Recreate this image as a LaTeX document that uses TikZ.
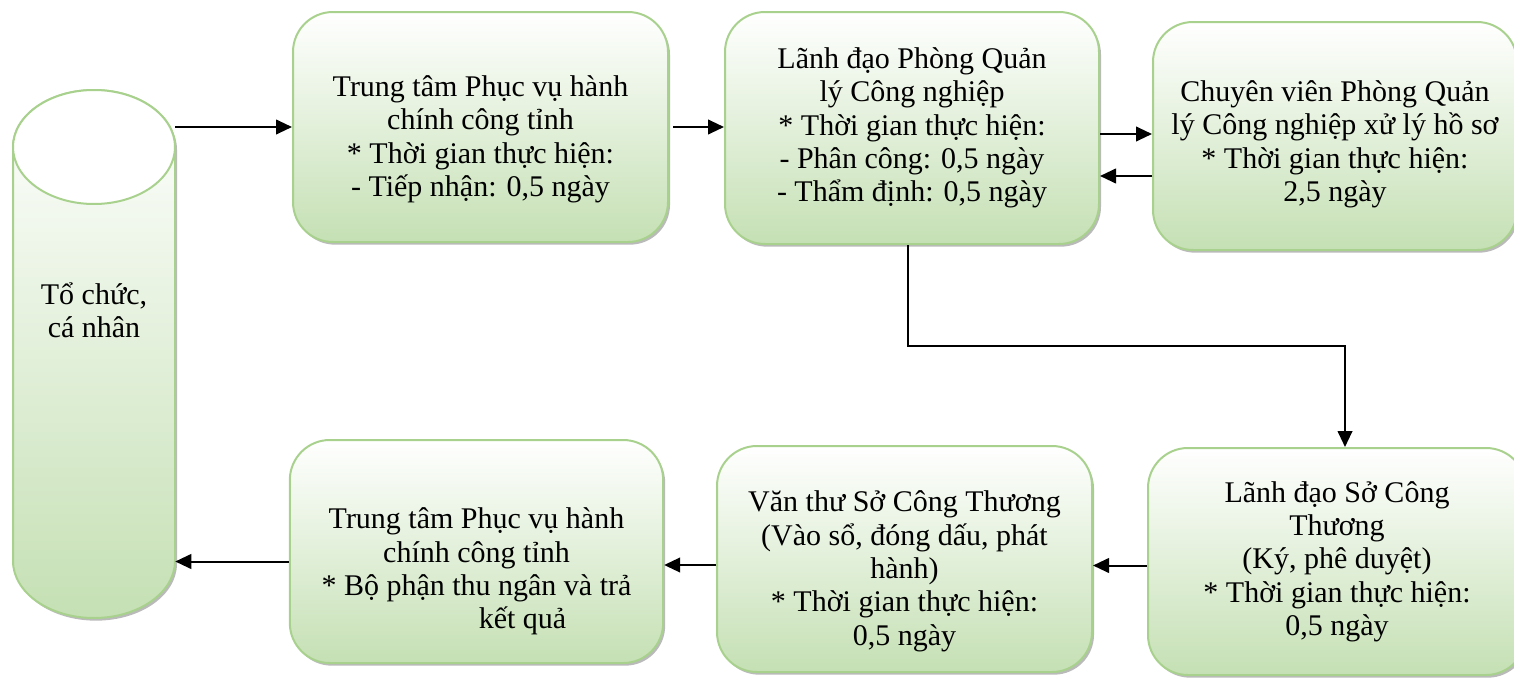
\documentclass[tikz,border=0pt]{standalone}
\usepackage{fontspec}
\setmainfont{Liberation Serif}
\usetikzlibrary{calc,shadows,arrows.meta}

\definecolor{boxline}{HTML}{A9D18E}
\definecolor{boxfill}{HTML}{C5E0B4}

\newcommand{\pushdn}[1]{\rule{0pt}{#1}}

\tikzset{
  stepbox/.style={draw=boxline, line width=1.5pt, rounded corners=30pt,
    top color=white, bottom color=boxfill,
    drop shadow={shadow xshift=1.5pt, shadow yshift=-2pt, fill=black!45, opacity=0.6},
    align=center, font=\fontsize{22.5}{25}\selectfont, inner sep=0pt},
  cylbody/.style={draw=boxline, line width=1.5pt, top color=white, bottom color=boxfill,
    drop shadow={shadow xshift=1.5pt, shadow yshift=-2pt, fill=black!45, opacity=0.6}},
  arr/.style={-{Triangle[length=12pt,width=11pt]}, line width=1.5pt},
}

\begin{document}
\begin{tikzpicture}[x=0.75pt,y=0.75pt,yscale=-1,xscale=1]
\useasboundingbox (0,0) rectangle (1514,678);

% Cylinder
\path[cylbody] (13,147) -- (13,561) arc[start angle=180, end angle=0, x radius=81, y radius=57]
  -- (175,147) arc[start angle=0, end angle=-180, x radius=81, y radius=57] -- cycle;
\draw[boxline, line width=1.5pt, fill=white] (94,147) ellipse [x radius=81, y radius=57];
\node[align=center, font=\fontsize{22.5}{25}\selectfont, minimum width=121.5pt, inner sep=0pt] (tochuc) at (94,310) {Tổ chức,\\cá nhân};

% Top row
\node[stepbox, minimum width=281.25pt, minimum height=172.5pt] (tt1) at (480.5,127)
  {\pushdn{34pt}Trung tâm Phục vụ hành\\chính công tỉnh\\* Thời gian thực hiện:\\- Tiếp nhận: 0,5 ngày};
\node[stepbox, minimum width=280.5pt, minimum height=174pt] (ldp) at (912,128)
  {Lãnh đạo Phòng Quản\\lý Công nghiệp\\* Thời gian thực hiện:\\- Phân công: 0,5 ngày\\- Thẩm định: 0,5 ngày};
\node[stepbox, minimum width=273pt, minimum height=171pt] (cv) at (1335,136)
  {\pushdn{28pt}Chuyên viên Phòng Quản\\lý Công nghiệp xử lý hồ sơ\\* Thời gian thực hiện:\\2,5 ngày};

% Bottom row
\node[stepbox, minimum width=283.5pt, minimum height=170.25pt] (ldso) at (1337,561.5)
  {Lãnh đạo Sở Công\\Thương\\(Ký, phê duyệt)\\* Thời gian thực hiện:\\0,5 ngày};
\node[stepbox, minimum width=281.25pt, minimum height=169.5pt] (vanthu) at (904.5,559)
  {\pushdn{34pt}Văn thư Sở Công Thương\\(Vào sổ, đóng dấu, phát\\hành)\\* Thời gian thực hiện:\\0,5 ngày};
\node[stepbox, minimum width=280pt, minimum height=167.25pt] (tt2) at (476.5,551.5)
  {\pushdn{46pt}Trung tâm Phục vụ hành\\chính công tỉnh\\* Bộ phận thu ngân và trả\\\hspace*{69pt}kết quả};

% Arrows
\draw[arr] (tt1.west -| tochuc.east) -- (tt1.west);
\draw[arr, shorten <=3pt] (tt1.east) -- (ldp.west |- tt1.east);
\draw[arr] ($(ldp.east)+(0,6)$) -- ($(ldp.east -| cv.west)+(0,6)$);
\draw[arr] ($(cv.west)+(0,40)$) -- ($(cv.west -| ldp.east)+(0,40)$);
\draw[arr] ($(ldp.south)+(-4,0)$) -- ($(ldp.south)!0.5!(ldp.south |- ldso.north)+(-4,0)$) -| ($(ldso.north)+(8,0)$);
\draw[arr] ($(ldso.west)+(0,4)$) -- ($(ldso.west -| vanthu.east)+(0,4)$);
\draw[arr] ($(vanthu.west)+(0,6)$) -- ($(vanthu.west -| tt2.east)+(0,6)$);
\draw[arr] ($(tt2.west)+(0,10)$) -- ($(tt2.west -| tochuc.east)+(0,10)$);

\end{tikzpicture}
\end{document}
